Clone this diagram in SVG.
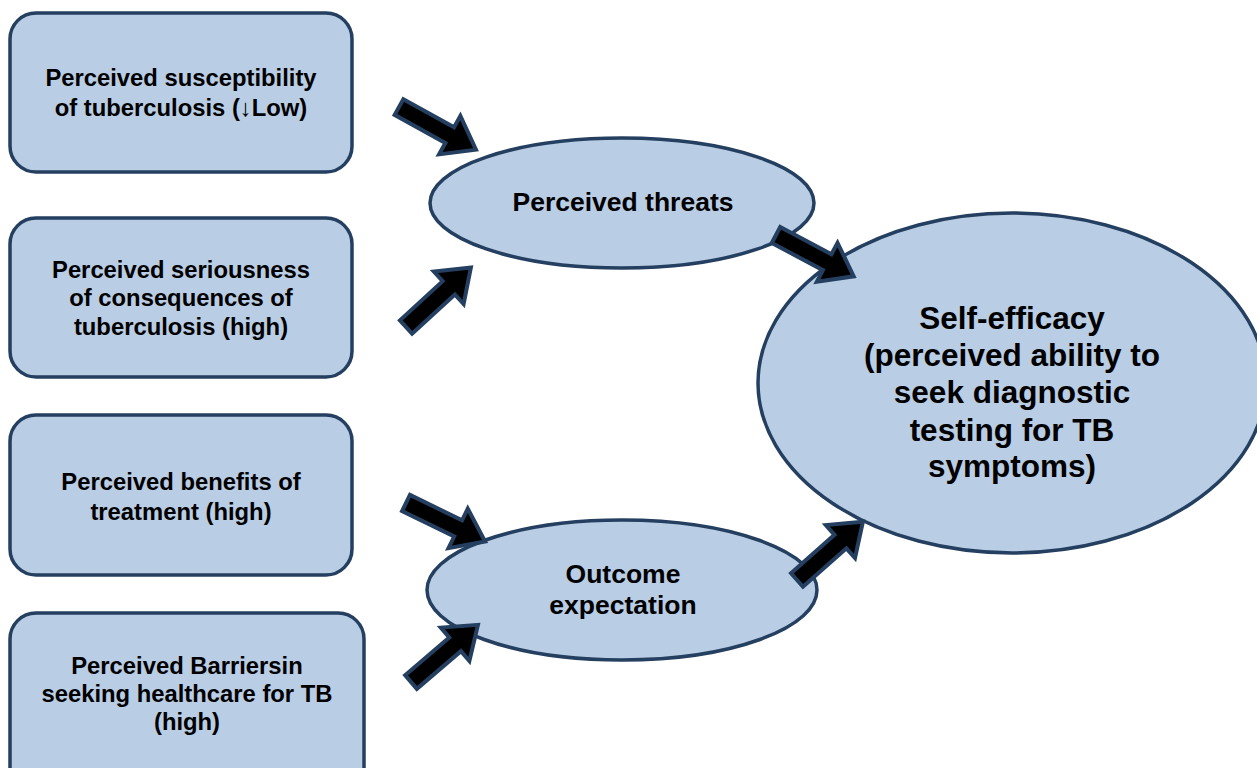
<svg xmlns="http://www.w3.org/2000/svg" width="1257" height="768" viewBox="0 0 1257 768">
<style>
.box{fill:#b9cde5;stroke:#243f60;stroke-width:3.5}
.t{font-family:"Liberation Sans",Arial,sans-serif;font-weight:bold;fill:#000;text-anchor:middle}
.s{font-size:23.8px}
.m{font-size:26.5px}
.l{font-size:31.5px}
.arr{fill:#000;stroke:#243f60;stroke-width:4;stroke-linejoin:miter}
</style>
<defs>
<path id="ar" d="M0,-9 L58,-9 L58,-22 L88,0 L58,22 L58,9 L0,9 Z"/>
</defs>
<rect width="1257" height="768" fill="#fff"/>
<g id="n1"><rect class="box" x="10" y="13" width="342" height="159" rx="26"/>
<text class="t s" x="181" y="86">Perceived susceptibility</text>
<text class="t s" x="181" y="116">of tuberculosis (↓Low)</text></g>
<g id="n2"><rect class="box" x="10" y="218" width="342" height="159" rx="26"/>
<text class="t s" x="181" y="278">Perceived seriousness</text>
<text class="t s" x="181" y="306">of consequences of</text>
<text class="t s" x="181" y="335">tuberculosis (high)</text></g>
<g id="n3"><rect class="box" x="10" y="415" width="342" height="160" rx="26"/>
<text class="t s" x="181" y="490">Perceived benefits of</text>
<text class="t s" x="181" y="520">treatment (high)</text></g>
<g id="n4"><rect class="box" x="10" y="613" width="354" height="180" rx="26"/>
<text class="t s" x="187" y="674">Perceived Barriersin</text>
<text class="t s" x="187" y="702">seeking healthcare for TB</text>
<text class="t s" x="187" y="730">(high)</text></g>
<g id="n5"><ellipse class="box" cx="622" cy="203" rx="192" ry="65"/>
<text class="t m" x="623" y="211">Perceived threats</text></g>
<g id="n6"><ellipse class="box" cx="622" cy="590" rx="195" ry="70"/>
<text class="t m" x="623" y="583">Outcome</text>
<text class="t m" x="623" y="614">expectation</text></g>
<g id="n7"><ellipse class="box" cx="1012" cy="383" rx="254" ry="170"/>
<text class="t l" x="1012" y="329">Self-efficacy</text>
<text class="t l" x="1012" y="366">(perceived ability to</text>
<text class="t l" x="1012" y="403">seek diagnostic</text>
<text class="t l" x="1012" y="441">testing for TB</text>
<text class="t l" x="1012" y="477">symptoms)</text></g>
<g id="connectors">
<use href="#ar" class="arr" transform="translate(399,107) rotate(29)"/>
<use href="#ar" class="arr" transform="translate(406,327) rotate(-42.5)"/>
<use href="#ar" class="arr" transform="translate(776,235) rotate(28)"/>
<use href="#ar" class="arr" transform="translate(406,503) rotate(26)"/>
<use href="#ar" class="arr" transform="translate(411,682) rotate(-40.5)"/>
<use href="#ar" class="arr" transform="translate(797,580) rotate(-41.5)"/>
</g>
</svg>
